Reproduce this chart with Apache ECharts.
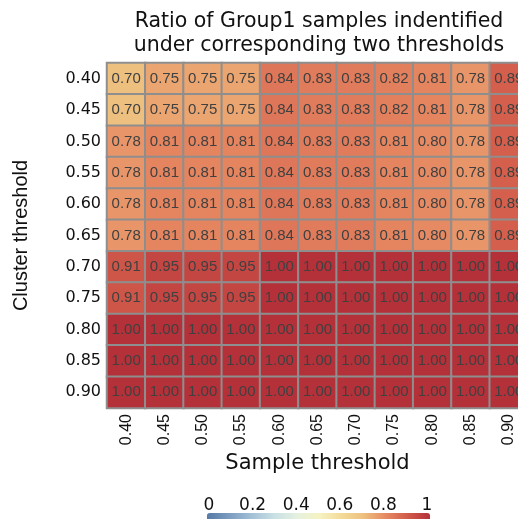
<!DOCTYPE html>
<html>
<head>
<meta charset="utf-8">
<script src="https://cdn.jsdelivr.net/npm/echarts@6/dist/echarts.min.js"></script>
<style>html,body{margin:0;padding:0;background:#fff}#c{width:518px;height:519px}</style>
</head>
<body>
<div id="c"></div>
<script>
const sampleThresholds = ['0.40','0.45','0.50','0.55','0.60','0.65','0.70','0.75','0.80','0.85','0.90'];
const clusterThresholds = ['0.40','0.45','0.50','0.55','0.60','0.65','0.70','0.75','0.80','0.85','0.90'];
const row040 = [0.70,0.75,0.75,0.75,0.84,0.83,0.83,0.82,0.81,0.78,0.89];
const row045 = [0.70,0.75,0.75,0.75,0.84,0.83,0.83,0.82,0.81,0.78,0.89];
const row050 = [0.78,0.81,0.81,0.81,0.84,0.83,0.83,0.81,0.80,0.78,0.89];
const row055 = [0.78,0.81,0.81,0.81,0.84,0.83,0.83,0.81,0.80,0.78,0.89];
const row060 = [0.78,0.81,0.81,0.81,0.84,0.83,0.83,0.81,0.80,0.78,0.89];
const row065 = [0.78,0.81,0.81,0.81,0.84,0.83,0.83,0.81,0.80,0.78,0.89];
const row070 = [0.91,0.95,0.95,0.95,1.00,1.00,1.00,1.00,1.00,1.00,1.00];
const row075 = [0.91,0.95,0.95,0.95,1.00,1.00,1.00,1.00,1.00,1.00,1.00];
const row080 = [1.00,1.00,1.00,1.00,1.00,1.00,1.00,1.00,1.00,1.00,1.00];
const row085 = [1.00,1.00,1.00,1.00,1.00,1.00,1.00,1.00,1.00,1.00,1.00];
const row090 = [1.00,1.00,1.00,1.00,1.00,1.00,1.00,1.00,1.00,1.00,1.00];
const rows = [row040,row045,row050,row055,row060,row065,row070,row075,row080,row085,row090];
const legendTicks = [0, 0.2, 0.4, 0.6, 0.8, 1];

const data = [];
rows.forEach((r, yi) => r.forEach((v, xi) => data.push([xi, yi, v])));

const FONT = 'Liberation Sans';
const WIDE = 'DejaVu Sans';
const chart = echarts.init(document.getElementById('c'), null, {renderer: 'canvas'});
chart.setOption({
  animation: false,
  backgroundColor: '#fff',
  textStyle: {fontFamily: FONT},
  title: {
    text: 'Ratio of Group1 samples indentified\nunder corresponding two thresholds',
    left: 314, top: 5, textAlign: 'center',
    textStyle: {fontFamily: WIDE, fontSize: 20.5, fontWeight: 'normal', color: '#111', lineHeight: 24}
  },
  grid: [
    {left: 107, top: 63, width: 421, height: 345, outerBoundsMode: 'none', containLabel: false},
    {left: 209, top: 515, width: 218, height: 4, outerBoundsMode: 'none', containLabel: false}
  ],
  xAxis: [{
    type: 'category', data: sampleThresholds, gridIndex: 0,
    name: 'Sample threshold', nameLocation: 'middle', nameGap: 45,
    nameTextStyle: {fontFamily: WIDE, fontSize: 21, color: '#111'},
    axisLine: {show: false}, axisTick: {show: false}, splitLine: {show: false},
    axisLabel: {rotate: 90, margin: 6, fontFamily: FONT, fontSize: 16, color: '#111'}
  }, {
    type: 'value', gridIndex: 1, min: 0, max: 1, interval: 0.2, position: 'top',
    axisLine: {show: false}, axisTick: {show: false}, splitLine: {show: false},
    axisLabel: {margin: 1, fontFamily: WIDE, fontSize: 17, color: '#111', formatter: v => String(+v.toFixed(1))}
  }],
  yAxis: [{
    type: 'category', data: clusterThresholds, inverse: true, gridIndex: 0,
    name: 'Cluster threshold', nameLocation: 'middle', nameGap: 76, nameRotate: 90,
    nameTextStyle: {fontFamily: FONT, fontSize: 20, color: '#111'},
    axisLine: {show: false}, axisTick: {show: false}, splitLine: {show: false},
    axisLabel: {margin: 6, fontFamily: WIDE, fontSize: 16, color: '#111'}
  }, {
    type: 'value', gridIndex: 1, show: false
  }],
  visualMap: {
    type: 'continuous', min: 0, max: 1, seriesIndex: 0, calculable: false,
    orient: 'horizontal', left: 207, top: 513, padding: 0, itemWidth: 10, itemHeight: 223,
    text: ['', ''], showLabel: false, hoverLink: false,
    inRange: {color: ['#567aa6','#7c9cc0','#a3c0d6','#c8e0e4','#e4f0e0','#f6f3c4','#f3dc9a','#eec07f','#e68a63','#d15a49','#b5313a']}
  },
  series: [{
    type: 'heatmap', xAxisIndex: 0, yAxisIndex: 0, data: data,
    itemStyle: {borderColor: '#8e8e8e', borderWidth: 2},
    label: {show: true, formatter: p => p.value[2].toFixed(2), fontFamily: FONT, fontSize: 15, color: '#404040'},
    emphasis: {disabled: true}
  }]
});
</script>
</body>
</html>
